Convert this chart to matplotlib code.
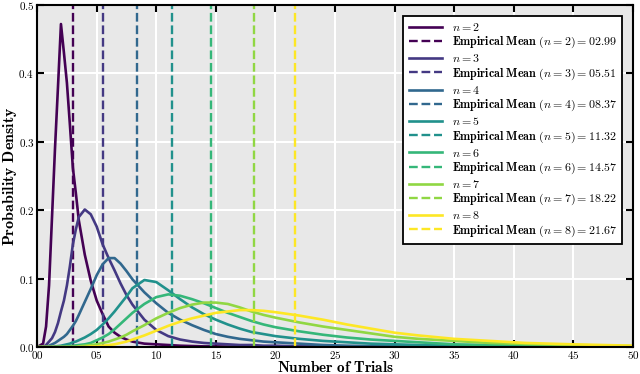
import numpy as np
import matplotlib
matplotlib.use("Agg")
import matplotlib.pyplot as plt
from matplotlib.ticker import MultipleLocator, FuncFormatter

plt.rcParams['mathtext.fontset'] = 'cm'
plt.rcParams['font.family'] = 'serif'
plt.rcParams['font.serif'] = ['cmr10', 'DejaVu Serif']
plt.rcParams['axes.formatter.use_mathtext'] = True

# values
trials = [0, 0.5, 0.75, 1, 1.25, 1.5, 1.75, 2, 2.25, 2.5, 2.75, 3, 3.25, 3.5, 4, 4.5, 5, 5.5,
          6, 6.5, 7, 7.5, 8, 9, 10, 11, 12, 13, 14, 15, 16, 17, 18, 19, 20, 22, 24, 26, 28,
          30, 32, 35, 38, 41, 45, 50]

dens_n2 = [0, 0.005, 0.03, 0.09, 0.19, 0.29, 0.38, 0.472, 0.43, 0.386, 0.325, 0.262, 0.225, 0.185,
           0.135, 0.097, 0.068, 0.048, 0.030, 0.021, 0.015, 0.011, 0.008, 0.005, 0.004, 0.003,
           0.002, 0.0015, 0.001, 0.001, 0.0007, 0.0005, 0.0004, 0.0003, 0.0002, 0.0001, 0, 0, 0,
           0, 0, 0, 0, 0, 0, 0]
dens_n3 = [0, 0, 0.003, 0.008, 0.013, 0.022, 0.035, 0.052, 0.068, 0.090, 0.118, 0.150, 0.172, 0.190,
           0.201, 0.194, 0.176, 0.150, 0.130, 0.112, 0.093, 0.076, 0.062, 0.040, 0.025, 0.016,
           0.011, 0.008, 0.006, 0.005, 0.004, 0.003, 0.003, 0.002, 0.002, 0.001, 0.001, 0.0005,
           0.0003, 0, 0, 0, 0, 0, 0, 0]
dens_n4 = [0, 0, 0, 0.002, 0.004, 0.006, 0.009, 0.012, 0.015, 0.019, 0.025, 0.031, 0.038, 0.047,
           0.066, 0.085, 0.105, 0.121, 0.130, 0.130, 0.122, 0.111, 0.099, 0.080, 0.064, 0.050,
           0.040, 0.032, 0.025, 0.019, 0.015, 0.012, 0.010, 0.008, 0.007, 0.005, 0.003, 0.002,
           0.0015, 0.001, 0.0007, 0.0004, 0.0002, 0.0001, 0, 0]
dens_n5 = [0, 0, 0, 0, 0, 0.001, 0.0015, 0.002, 0.003, 0.004, 0.005, 0.007, 0.008, 0.010,
           0.014, 0.019, 0.025, 0.033, 0.042, 0.052, 0.063, 0.074, 0.086, 0.098, 0.095, 0.083,
           0.070, 0.058, 0.048, 0.040, 0.033, 0.027, 0.022, 0.019, 0.016, 0.012, 0.009, 0.007,
           0.005, 0.004, 0.003, 0.002, 0.001, 0.0007, 0.0003, 0.0001]
dens_n6 = [0, 0, 0, 0, 0, 0, 0, 0, 0, 0.001, 0.0015, 0.002, 0.0025, 0.003,
           0.004, 0.006, 0.010, 0.014, 0.019, 0.026, 0.034, 0.042, 0.050, 0.063, 0.073, 0.077,
           0.075, 0.070, 0.064, 0.057, 0.050, 0.044, 0.038, 0.033, 0.029, 0.023, 0.018, 0.014,
           0.011, 0.009, 0.007, 0.004, 0.003, 0.002, 0.001, 0.0005]
dens_n7 = [0, 0, 0, 0, 0, 0, 0, 0, 0, 0, 0, 0, 0, 0.001,
           0.002, 0.003, 0.004, 0.006, 0.008, 0.011, 0.014, 0.018, 0.023, 0.032, 0.042, 0.050,
           0.057, 0.062, 0.065, 0.065, 0.063, 0.058, 0.052, 0.047, 0.043, 0.036, 0.030, 0.025,
           0.020, 0.015, 0.012, 0.009, 0.006, 0.0045, 0.003, 0.0015]
dens_n8 = [0, 0, 0, 0, 0, 0, 0, 0, 0, 0, 0, 0, 0, 0,
           0, 0.001, 0.001, 0.002, 0.003, 0.004, 0.006, 0.008, 0.011, 0.017, 0.024, 0.031,
           0.037, 0.042, 0.046, 0.050, 0.052, 0.054, 0.054, 0.053, 0.051, 0.046, 0.040, 0.033,
           0.027, 0.021, 0.017, 0.012, 0.009, 0.006, 0.004, 0.002]

n_values = [2, 3, 4, 5, 6, 7, 8]
empirical_means = [2.99, 5.51, 8.37, 11.32, 14.57, 18.22, 21.67]
densities = [dens_n2, dens_n3, dens_n4, dens_n5, dens_n6, dens_n7, dens_n8]

colors = plt.cm.viridis(np.linspace(0, 1, len(n_values)))

fig = plt.figure(figsize=(6.4, 3.74), dpi=100)
ax = fig.add_axes([0.058, 0.072, 0.931, 0.915])
ax.set_facecolor('#e8e8e8')

for n, m, d, c in zip(n_values, empirical_means, densities, colors):
    ax.plot(trials, d, color=c, lw=1.9, label=r'$n = %d$' % n)
    ax.axvline(m, color=c, lw=1.7, ls='--',
               label=r'$\mathbf{Empirical\ Mean}\ (n = %d) = %05.2f$' % (n, m))

ax.set_xlim(0, 50)
ax.set_ylim(0, 0.5)
ax.xaxis.set_major_locator(MultipleLocator(5))
ax.yaxis.set_major_locator(MultipleLocator(0.1))
ax.xaxis.set_major_formatter(FuncFormatter(lambda v, p: r'$\mathbf{%02d}$' % v))
ax.yaxis.set_major_formatter(FuncFormatter(lambda v, p: r'$\mathbf{%.1f}$' % v))
ax.tick_params(direction='in', length=5, width=1.5, top=True, right=True,
               labelsize=8, pad=2)
ax.tick_params(axis='x', pad=1.5)
ax.grid(True, color='white', lw=1.5)
ax.set_axisbelow(True)
for s in ax.spines.values():
    s.set_linewidth(1.5)
    s.set_color('black')

ax.set_xlabel(r'$\mathbf{Number\ of\ Trials}$', fontsize=11)
ax.set_ylabel(r'$\mathbf{Probability\ Density}$', fontsize=11.5)
ax.xaxis.set_label_coords(0.5, -0.039)
ax.yaxis.set_label_coords(-0.031, 0.5)

leg = ax.legend(loc='upper right', fontsize=8.6, frameon=True, fancybox=False,
                edgecolor='black', framealpha=1, handlelength=2.8, labelspacing=0.17,
                borderaxespad=0.9, borderpad=0.45, handletextpad=0.8)
leg.get_frame().set_linewidth(1.3)

fig.savefig('out.png', dpi=100)
